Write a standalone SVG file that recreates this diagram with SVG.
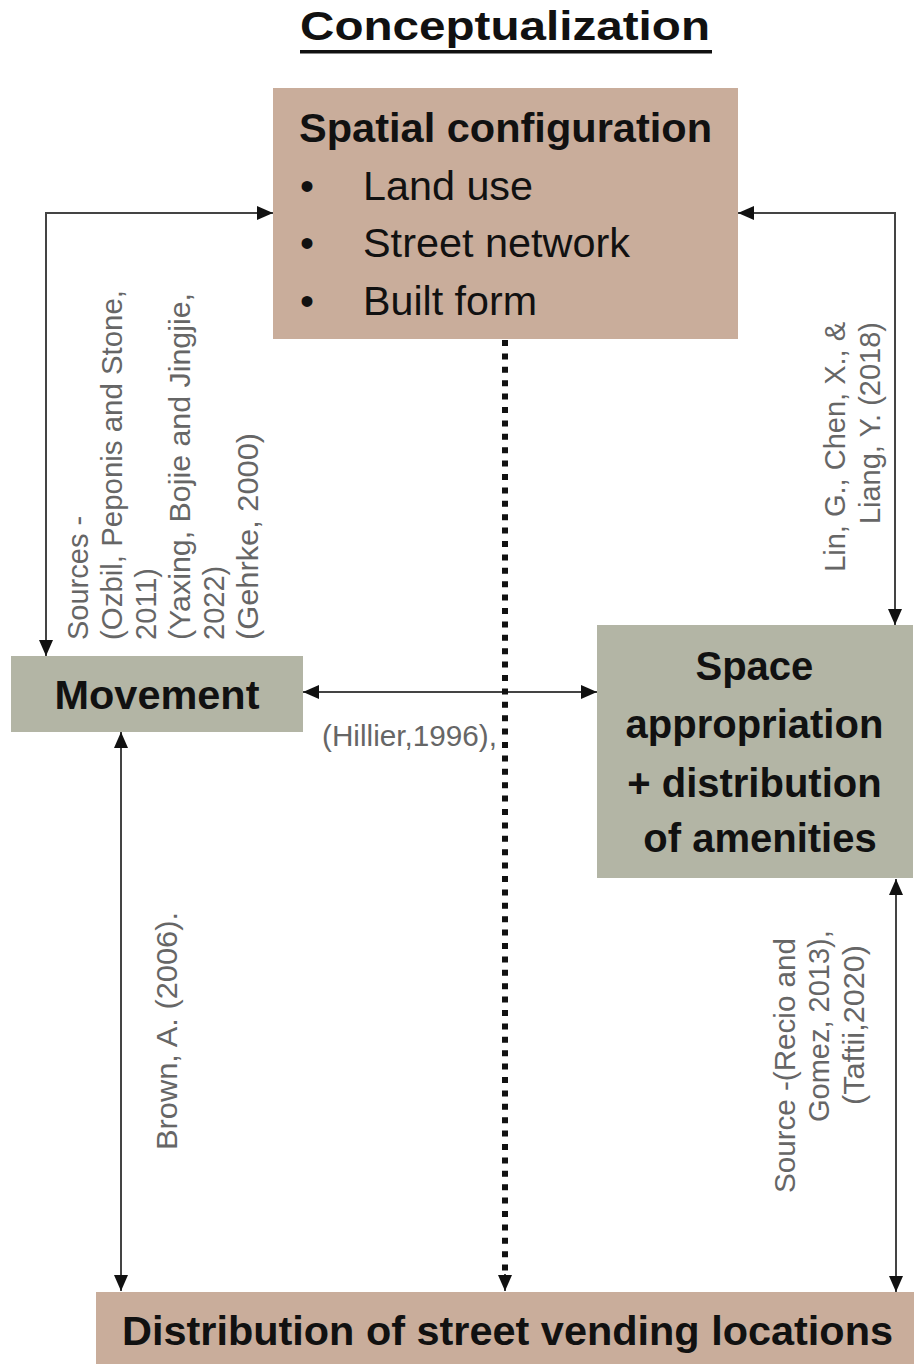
<svg xmlns="http://www.w3.org/2000/svg" width="914" height="1364" viewBox="0 0 914 1364">
<style>
.tan{fill:#c9ad9b}
.grey{fill:#b3b5a5}
.bold{font-family:"Liberation Sans",Arial,sans-serif;font-weight:bold;fill:#111}
.reg{font-family:"Liberation Sans",Arial,sans-serif;fill:#111}
.cite{font-family:"Liberation Sans",Arial,sans-serif;fill:#666;font-size:29px}
.conn{stroke:#444;stroke-width:2;fill:none}
</style>
<defs>
<marker id="ah" markerUnits="userSpaceOnUse" markerWidth="16" markerHeight="14" viewBox="0 0 16 14" refX="16" refY="7" orient="auto-start-reverse">
<path d="M0,0 L16,7 L0,14 z" fill="#111"/>
</marker>
</defs>
<rect width="914" height="1364" fill="#fff"/>
<g id="title">
<text class="bold" x="300" y="40" font-size="41" textLength="410" lengthAdjust="spacingAndGlyphs">Conceptualization</text>
<rect x="300" y="50" width="412" height="3.5" fill="#111"/>
</g>
<g id="connectors">
<polyline class="conn" points="273,213 46,213 46,656" marker-start="url(#ah)" marker-end="url(#ah)"/>
<polyline class="conn" points="738,213 895,213 895,625" marker-start="url(#ah)" marker-end="url(#ah)"/>
<line class="conn" x1="303" y1="692" x2="597" y2="692" marker-start="url(#ah)" marker-end="url(#ah)"/>
<line class="conn" x1="121" y1="732" x2="121" y2="1291" marker-start="url(#ah)" marker-end="url(#ah)"/>
<line class="conn" x1="896" y1="879" x2="896" y2="1292" marker-start="url(#ah)" marker-end="url(#ah)"/>
<line x1="505" y1="340" x2="505" y2="1276" stroke="#111" stroke-width="6" stroke-dasharray="6 7.4"/>
<line class="conn" x1="505" y1="1274" x2="505" y2="1291" marker-end="url(#ah)"/>
</g>
<g id="spatial">
<rect class="tan" x="273" y="88" width="465" height="251"/>
<text class="bold" x="299" y="142" font-size="40" textLength="413" lengthAdjust="spacingAndGlyphs">Spatial configuration</text>
<text class="reg" x="300" y="200" font-size="40">•</text>
<text class="reg" x="300" y="257" font-size="40">•</text>
<text class="reg" x="300" y="315" font-size="40">•</text>
<text class="reg" x="363" y="200" font-size="40" textLength="170" lengthAdjust="spacingAndGlyphs">Land use</text>
<text class="reg" x="363" y="257" font-size="40" textLength="267" lengthAdjust="spacingAndGlyphs">Street network</text>
<text class="reg" x="363" y="315" font-size="40" textLength="174" lengthAdjust="spacingAndGlyphs">Built form</text>
</g>
<g id="movement">
<rect class="grey" x="11" y="656" width="292" height="76"/>
<text class="bold" x="157" y="709" font-size="40" text-anchor="middle" textLength="205" lengthAdjust="spacingAndGlyphs">Movement</text>
</g>
<g id="space">
<rect class="grey" x="597" y="625" width="316" height="253"/>
<text class="bold" font-size="40" text-anchor="middle">
<tspan x="760" y="680">Space</tspan>
<tspan x="760" y="738">appropriation</tspan>
<tspan x="760" y="797">+ distribution</tspan>
<tspan x="760" y="852">of amenities</tspan>
</text>
</g>
<g id="vending">
<rect class="tan" x="96" y="1292" width="818" height="72"/>
<text class="bold" x="122" y="1345" font-size="41" textLength="771" lengthAdjust="spacingAndGlyphs">Distribution of street vending locations</text>
</g>
<g id="labels">
<text class="cite" transform="translate(88,640) rotate(-90)">Sources -</text>
<text class="cite" transform="translate(122,640) rotate(-90)" textLength="350" lengthAdjust="spacingAndGlyphs">(Ozbil, Peponis and Stone,</text>
<text class="cite" transform="translate(156,640) rotate(-90)">2011)</text>
<text class="cite" transform="translate(190,640) rotate(-90)" textLength="347" lengthAdjust="spacingAndGlyphs">(Yaxing, Bojie and Jingjie,</text>
<text class="cite" transform="translate(224,640) rotate(-90)">2022)</text>
<text class="cite" transform="translate(258,640) rotate(-90)" textLength="207" lengthAdjust="spacingAndGlyphs">(Gehrke, 2000)</text>
<text class="cite" transform="translate(845,322) rotate(-90)" text-anchor="end">Lin, G., Chen, X., &amp;</text>
<text class="cite" transform="translate(880,322) rotate(-90)" text-anchor="end">Liang, Y. (2018)</text>
<text class="cite" x="322" y="746" font-size="27" textLength="175" lengthAdjust="spacingAndGlyphs">(Hillier,1996),</text>
<text class="cite" transform="translate(177,1150) rotate(-90)" textLength="238" lengthAdjust="spacingAndGlyphs">Brown, A. (2006).</text>
<text class="cite" transform="translate(795,1193) rotate(-90)" textLength="255" lengthAdjust="spacingAndGlyphs">Source -(Recio and</text>
<text class="cite" transform="translate(829,1122) rotate(-90)">Gomez, 2013),</text>
<text class="cite" transform="translate(864,1105) rotate(-90)" textLength="160" lengthAdjust="spacingAndGlyphs">(Taftii,2020)</text>
</g>
</svg>
